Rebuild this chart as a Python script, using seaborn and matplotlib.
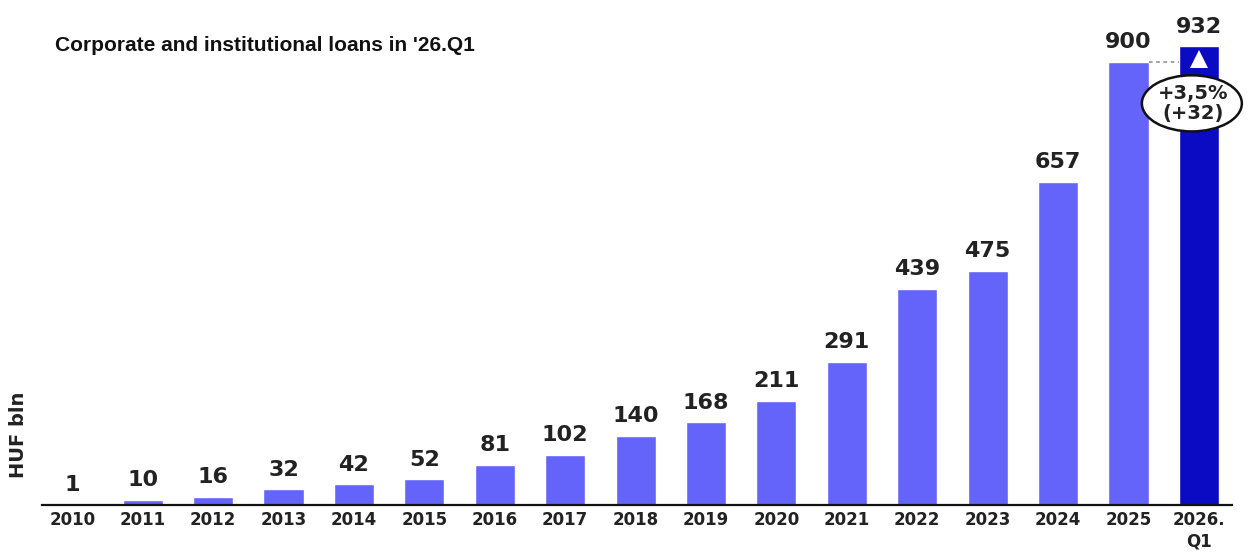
import matplotlib
matplotlib.use("Agg")
import matplotlib.pyplot as plt
from matplotlib.patches import Ellipse
import seaborn as sns
import pandas as pd

# Loan volumes, HUF bln
categories = ["2010", "2011", "2012", "2013", "2014", "2015", "2016", "2017", "2018",
              "2019", "2020", "2021", "2022", "2023", "2024", "2025", "2026.\nQ1"]
values = [1, 10, 16, 32, 42, 52, 81, 102, 140, 168, 211, 291, 439, 475, 657, 900, 932]
period_type = ["year"] * 16 + ["quarter"]

title = "Corporate and institutional loans in '26.Q1"
ylabel = "HUF bln"
change_text = "+3,5%\n(+32)"

light = "#6464FA"
dark = "#0B0BC4"
text_col = "#222222"

df = pd.DataFrame({"period": categories, "value": values, "kind": period_type})

sns.set_theme(style="white")
plt.rcParams["font.family"] = ["DejaVu Sans"]

fig = plt.figure(figsize=(12.58, 5.55), dpi=100)
ax = fig.add_axes([42 / 1258, 50 / 555, 1190 / 1258, 470 / 555])

sns.barplot(data=df, x="period", y="value", hue="kind",
            palette={"year": light, "quarter": dark},
            width=0.57, dodge=False, legend=False, saturation=1, ax=ax)

ax.set_xlim(-0.43, len(categories) - 0.53)
ax.set_ylim(0, 470 / 0.4922)

for container in ax.containers:
    ax.bar_label(container, fmt="%d", padding=7, fontsize=16, fontweight="bold",
                 color=text_col)

# Spines and ticks
for side in ["top", "right", "left"]:
    ax.spines[side].set_visible(False)
ax.spines["bottom"].set_color("#111111")
ax.spines["bottom"].set_linewidth(1.6)
ax.set_yticks([])
ax.set_xlabel("")
ax.set_ylabel(ylabel, fontsize=14, fontweight="bold", color=text_col, labelpad=4)
ax.yaxis.set_label_coords(-0.012, 0.15)
ax.tick_params(axis="x", length=0, pad=4)
for lbl in ax.get_xticklabels():
    lbl.set_fontsize(12)
    lbl.set_fontweight("bold")
    lbl.set_color(text_col)
    lbl.set_linespacing(1.3)
    lbl.set_verticalalignment("top")

fig.text(55 / 1258, 1 - 45 / 555, title, fontsize=15, fontweight="bold",
         family="Liberation Sans", color="#111111", va="center", ha="left")

# Growth annotation between the last two bars
last, prev = len(values) - 1, len(values) - 2
ax.plot([prev + 0.285, last - 0.285], [values[prev], values[prev]],
        ls=(0, (2, 2)), color="#9a9a9a", lw=1.3)
ax.plot(last, values[prev] + 6, marker="^", color="white", markersize=13,
        markeredgewidth=0)
ell = Ellipse((last - 0.1, values[prev] - 84), width=1.42, height=114,
              facecolor="white", edgecolor="#111111", lw=1.8, zorder=5,
              clip_on=False)
ax.add_patch(ell)
ax.text(last - 0.08, values[prev] - 84, change_text, ha="center", va="center",
        fontsize=14, fontweight="bold", color=text_col, zorder=6, linespacing=1.1)

fig.savefig("out.png", dpi=100)
